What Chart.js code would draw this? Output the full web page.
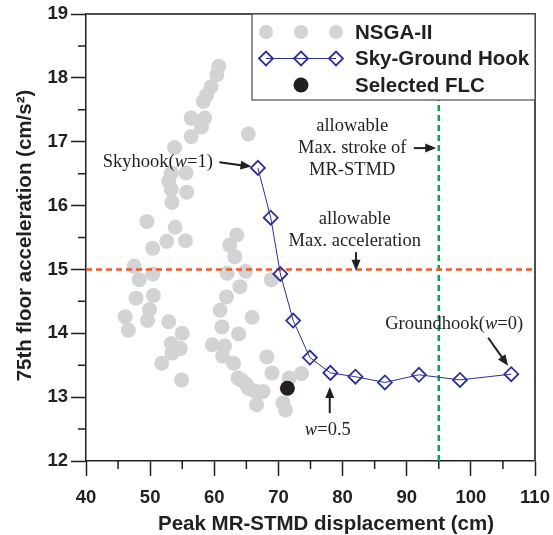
<!DOCTYPE html>
<html>
<head>
<meta charset="utf-8">
<script src="https://cdn.jsdelivr.net/npm/chart.js@4.4.1/dist/chart.umd.min.js"></script>
<style>
  html, body { margin: 0; padding: 0; background: #fff; }
</style>
</head>
<body>
<canvas id="paretoChart" width="553" height="535"></canvas>
<script>
// NSGA-II pareto points (peak MR-STMD displacement, 75th floor acceleration)
var nsgaX = [60.7,60.4,59.5,58.8,58.3,56.4,58.5,58.0,56.4,65.3,53.8,55.6,53.3,52.9,53.3,55.7,53.4,49.5,53.9,63.5,52.6,55.5,50.4,62.4,63.2,47.5,50.4,48.3,62.0,64.9,68.9,64.0,50.5,47.8,61.9,49.9,46.1,60.9,49.6,52.9,65.9,46.6,61.2,55.0,63.8,59.7,61.6,53.3,54.7,53.4,61.3,63.0,51.8,68.2,69.0,73.6,64.2,54.9,65.3,67.6,71.7,70.7,66.6,71.1,66.8,63.7,65.0,66.2];
var nsgaY = [18.18,18.05,17.86,17.73,17.63,17.37,17.37,17.23,17.08,17.12,16.91,16.51,16.51,16.38,16.25,16.21,16.05,15.75,15.66,15.54,15.44,15.45,15.33,15.38,15.20,15.05,14.93,14.84,14.94,14.97,14.84,14.73,14.59,14.55,14.57,14.37,14.26,14.36,14.20,14.18,14.25,14.05,14.10,14.00,13.99,13.82,13.80,13.84,13.76,13.69,13.64,13.53,13.53,13.63,13.38,13.37,13.27,13.27,13.14,13.09,13.30,12.91,12.88,12.80,13.06,13.30,13.20,13.10];

// Sky-Ground Hook, w = 1 ... 0
var hookX = [66.8,68.8,70.3,72.3,74.9,78.1,82.0,86.6,91.9,98.3,106.3];
var hookY = [16.59,15.81,14.93,14.20,13.62,13.38,13.32,13.23,13.35,13.27,13.36];

// selected FLC
var flcX = [71.4];
var flcY = [13.14];

// limits
var accLimit = 15;
var strokeLimit = 95;

var xRange = [40, 110];
var yRange = [12, 19];

var seriesNames = ['NSGA-II', 'Sky-Ground Hook', 'Selected FLC'];

var INK = '#231f20';
var GRAY = '#d1d3d4';
var BLUE = '#2e3192';
var RED = '#f15a29';
var GREEN = '#00a651';
var SANS = '"Liberation Sans", Arial, sans-serif';

function pts(xs, ys) {
  return xs.map(function (x, i) { return { x: x, y: ys[i] }; });
}

// text notes with arrows, placed in data coordinates
var notes = [
  { lines: [[['Skyhook(', 0], ['w', 1], ['=1)', 0]]], x: 51.2, y: 16.68, arrow: [60.8, 16.68, 65.8, 16.61] },
  { lines: [[['allowable', 0]], [['Max. stroke of', 0]], [['MR-STMD', 0]]], x: 81.5, y: 17.25, arrow: [91.1, 16.90, 94.6, 16.90] },
  { lines: [[['allowable', 0]], [['Max. acceleration', 0]]], x: 81.9, y: 15.79, arrow: [82.1, 15.27, 82.1, 14.98] },
  { lines: [[['Groundhook(', 0], ['w', 1], ['=0)', 0]]], x: 97.4, y: 14.15, arrow: [102.7, 13.93, 105.8, 13.49] },
  { lines: [[['w', 1], ['=0.5', 0]]], x: 77.7, y: 12.49, arrow: [78.0, 12.75, 78.0, 13.16] }
];

function serif(italic) {
  return (italic ? 'italic ' : '') + '18.5px "Liberation Serif", "Times New Roman", serif';
}

function drawRich(ctx, parts, cx, cy) {
  var total = 0;
  parts.forEach(function (p) { ctx.font = serif(p[1]); total += ctx.measureText(p[0]).width; });
  var x = cx - total / 2;
  parts.forEach(function (p) {
    ctx.font = serif(p[1]);
    ctx.fillText(p[0], x, cy);
    x += ctx.measureText(p[0]).width;
  });
}

function arrow(ctx, x1, y1, x2, y2) {
  var a = Math.atan2(y2 - y1, x2 - x1);
  var hl = 11, hw = 4.5;
  ctx.beginPath();
  ctx.moveTo(x1, y1);
  ctx.lineTo(x2 - Math.cos(a) * hl * 0.8, y2 - Math.sin(a) * hl * 0.8);
  ctx.lineWidth = 2;
  ctx.strokeStyle = INK;
  ctx.stroke();
  ctx.beginPath();
  ctx.moveTo(x2, y2);
  ctx.lineTo(x2 - Math.cos(a) * hl - Math.sin(a) * hw, y2 - Math.sin(a) * hl + Math.cos(a) * hw);
  ctx.lineTo(x2 - Math.cos(a) * hl + Math.sin(a) * hw, y2 - Math.sin(a) * hl - Math.cos(a) * hw);
  ctx.closePath();
  ctx.fillStyle = INK;
  ctx.fill();
}

var decorPlugin = {
  id: 'decor',
  afterDraw: function (chart) {
    var ctx = chart.ctx;
    var xs = chart.scales.x, ys = chart.scales.y;
    var area = chart.chartArea;
    ctx.save();

    // top / right frame
    ctx.strokeStyle = '#4d4d4d';
    ctx.lineWidth = 2;
    ctx.beginPath();
    ctx.moveTo(area.left, area.top);
    ctx.lineTo(area.right, area.top);
    ctx.lineTo(area.right, area.bottom);
    ctx.stroke();

    // minor ticks
    ctx.strokeStyle = INK;
    ctx.lineWidth = 1.5;
    ctx.beginPath();
    for (var v = xRange[0] + 5; v < xRange[1]; v += 10) {
      var px = xs.getPixelForValue(v);
      ctx.moveTo(px, area.bottom);
      ctx.lineTo(px, area.bottom + 8);
    }
    for (var w = yRange[0] + 0.5; w < yRange[1]; w += 1) {
      var py = ys.getPixelForValue(w);
      ctx.moveTo(area.left, py);
      ctx.lineTo(area.left - 8, py);
    }
    ctx.stroke();

    // notes
    ctx.fillStyle = INK;
    ctx.textBaseline = 'middle';
    ctx.textAlign = 'left';
    notes.forEach(function (n) {
      var cx = xs.getPixelForValue(n.x);
      var cy = ys.getPixelForValue(n.y);
      n.lines.forEach(function (ln, i) { drawRich(ctx, ln, cx, cy + i * 22); });
      arrow(ctx, xs.getPixelForValue(n.arrow[0]), ys.getPixelForValue(n.arrow[1]),
        xs.getPixelForValue(n.arrow[2]), ys.getPixelForValue(n.arrow[3]));
    });

    // legend
    var lx = 252, ly = area.top, lw = area.right - 252, lh = 86;
    ctx.fillStyle = '#fff';
    ctx.fillRect(lx, ly, lw, lh);
    ctx.strokeStyle = '#4d4d4d';
    ctx.lineWidth = 1.2;
    ctx.strokeRect(lx, ly, lw, lh);
    var symX = [266, 301, 336];
    var rows = [32, 58.5, 85];
    ctx.fillStyle = GRAY;
    symX.forEach(function (sx) {
      ctx.beginPath(); ctx.arc(sx, rows[0], 7, 0, Math.PI * 2); ctx.fill();
    });
    ctx.strokeStyle = BLUE;
    ctx.lineWidth = 1;
    ctx.beginPath(); ctx.moveTo(symX[0], rows[1]); ctx.lineTo(symX[2], rows[1]); ctx.stroke();
    ctx.lineWidth = 1.8;
    symX.forEach(function (sx) {
      ctx.beginPath();
      ctx.moveTo(sx - 7, rows[1]); ctx.lineTo(sx, rows[1] - 7);
      ctx.lineTo(sx + 7, rows[1]); ctx.lineTo(sx, rows[1] + 7);
      ctx.closePath(); ctx.stroke();
    });
    ctx.fillStyle = INK;
    ctx.beginPath(); ctx.arc(symX[1], rows[2], 7.5, 0, Math.PI * 2); ctx.fill();
    ctx.font = 'bold 20.5px ' + SANS;
    ctx.textAlign = 'left';
    seriesNames.forEach(function (name, i) { ctx.fillText(name, 355, rows[i] + 1); });

    // axis titles
    ctx.font = 'bold 20.5px ' + SANS;
    ctx.textAlign = 'center';
    ctx.fillText('Peak MR-STMD displacement (cm)', 326, 524);
    ctx.translate(25, (area.top + area.bottom) / 2 - 2);
    ctx.rotate(-Math.PI / 2);
    ctx.fillText('75th floor acceleration (cm/s\u00B2)', 0, 0);
    ctx.restore();
  }
};

var tickFont = { family: SANS, size: 18.5, weight: 'bold' };

var ctx = document.getElementById('paretoChart').getContext('2d');
var paretoChart = new Chart(ctx, {
  type: 'scatter',
  data: {
    datasets: [
      {
        label: seriesNames[2],
        data: pts(flcX, flcY),
        pointRadius: 7.5,
        pointBackgroundColor: INK,
        pointBorderWidth: 0,
        order: 0
      },
      {
        label: seriesNames[1],
        type: 'line',
        data: pts(hookX, hookY),
        showLine: true,
        borderColor: BLUE,
        borderWidth: 1,
        pointStyle: 'rectRot',
        pointRadius: 7,
        pointBorderColor: BLUE,
        pointBorderWidth: 1.8,
        pointBackgroundColor: 'rgba(0,0,0,0)',
        tension: 0,
        order: 1
      },
      {
        label: 'acc limit',
        type: 'line',
        data: [{ x: xRange[0], y: accLimit }, { x: xRange[1], y: accLimit }],
        borderColor: RED,
        borderWidth: 2.5,
        borderDash: [6, 4],
        pointRadius: 0,
        order: 2
      },
      {
        label: 'stroke limit',
        type: 'line',
        data: [{ x: strokeLimit, y: yRange[0] }, { x: strokeLimit, y: yRange[1] }],
        borderColor: GREEN,
        borderWidth: 2.5,
        borderDash: [6, 4],
        pointRadius: 0,
        order: 3
      },
      {
        label: seriesNames[0],
        data: pts(nsgaX, nsgaY),
        pointRadius: 7.5,
        pointBackgroundColor: GRAY,
        pointBorderWidth: 0,
        order: 4
      }
    ]
  },
  options: {
    responsive: false,
    animation: false,
    devicePixelRatio: 1,
    events: [],
    layout: { padding: { top: 14, right: 18, left: 0, bottom: 0 } },
    plugins: {
      legend: { display: false },
      tooltip: { enabled: false }
    },
    scales: {
      x: {
        type: 'linear',
        min: xRange[0],
        max: xRange[1],
        afterFit: function (s) { s.height = 74; s.paddingLeft = 0; s.paddingRight = 0; },
        ticks: { stepSize: 10, font: tickFont, color: INK, padding: 11, maxRotation: 0 },
        grid: { drawOnChartArea: false, tickLength: 15, tickWidth: 1.5, tickColor: INK },
        border: { color: INK, width: 1.5 }
      },
      y: {
        type: 'linear',
        min: yRange[0],
        max: yRange[1],
        afterFit: function (s) { s.width = 86; s.paddingTop = 0; s.paddingBottom = 0; },
        ticks: { stepSize: 1, font: tickFont, color: INK, padding: 3 },
        grid: { drawOnChartArea: false, tickLength: 15, tickWidth: 1.5, tickColor: INK },
        border: { color: INK, width: 1.5 }
      }
    }
  },
  plugins: [decorPlugin]
});
</script>
</body>
</html>
